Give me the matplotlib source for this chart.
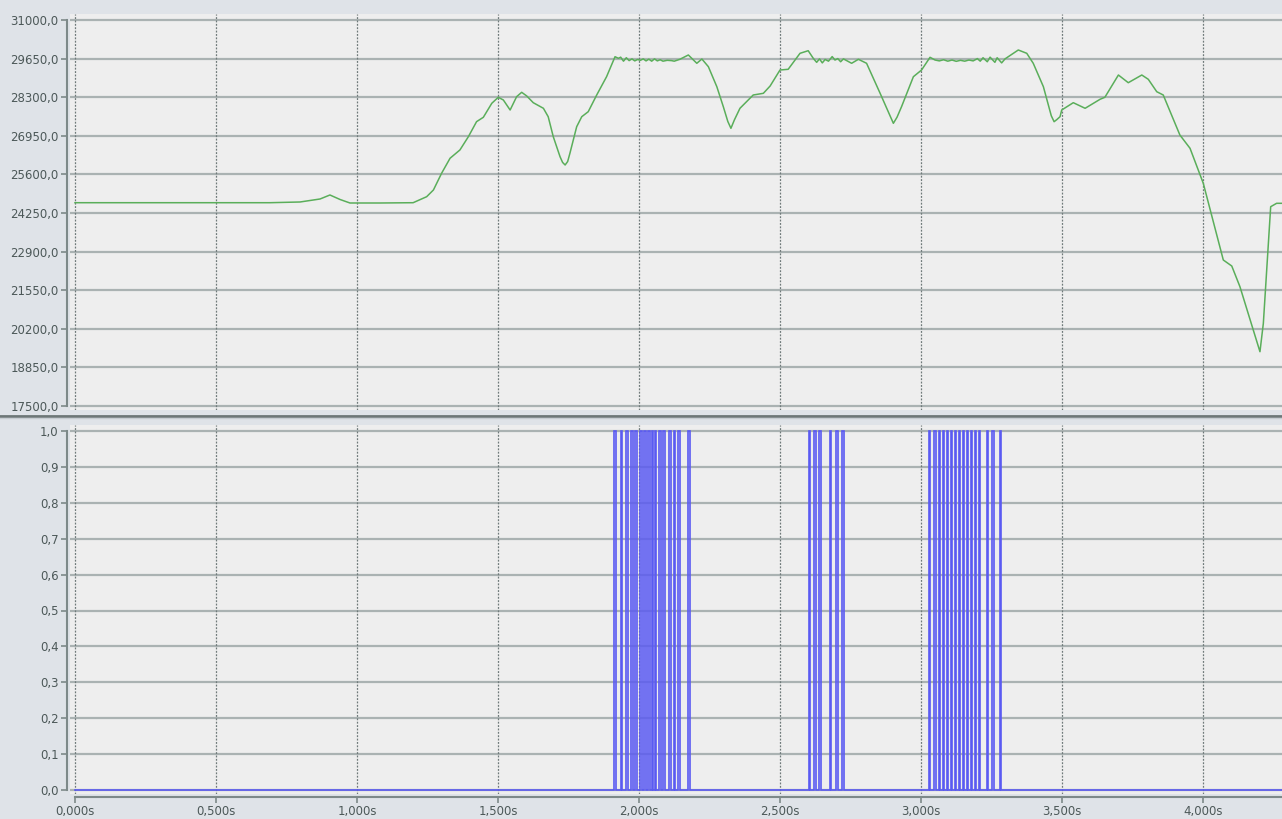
import matplotlib
matplotlib.use("Agg")
import matplotlib.pyplot as plt
from matplotlib.lines import Line2D
from matplotlib.ticker import FuncFormatter, FixedLocator

# ---- analog channel (green trace): time [s], value ----
analog_t = [
    0.000, 0.691, 0.798, 0.869, 0.904, 0.940, 0.975, 1.082, 1.199, 1.247,
    1.271, 1.300, 1.330, 1.365, 1.395, 1.424, 1.448, 1.478, 1.501, 1.519,
    1.543, 1.566, 1.584, 1.602, 1.625, 1.661, 1.678, 1.696, 1.720, 1.729,
    1.738, 1.747, 1.755, 1.779, 1.797, 1.820, 1.850, 1.885, 1.915, 1.927,
    1.935, 1.945, 1.955, 1.965, 1.975, 1.985, 1.995, 2.005, 2.015, 2.025,
    2.035, 2.045, 2.055, 2.065, 2.075, 2.085, 2.100, 2.115, 2.125, 2.145,
    2.175, 2.205, 2.223, 2.246, 2.276, 2.299, 2.315, 2.326, 2.338, 2.358,
    2.405, 2.441, 2.465, 2.500, 2.529, 2.571, 2.600, 2.618, 2.630, 2.640,
    2.650, 2.660, 2.672, 2.685, 2.695, 2.705, 2.715, 2.725, 2.754, 2.778,
    2.807, 2.855, 2.890, 2.902, 2.915, 2.931, 2.973, 3.002, 3.032, 3.050,
    3.065, 3.080, 3.095, 3.110, 3.125, 3.140, 3.155, 3.170, 3.185, 3.200,
    3.210, 3.220, 3.235, 3.245, 3.262, 3.270, 3.286, 3.298, 3.345, 3.375,
    3.398, 3.434, 3.462, 3.472, 3.482, 3.493, 3.499, 3.540, 3.582, 3.635,
    3.652, 3.700, 3.735, 3.783, 3.806, 3.836, 3.859, 3.918, 3.954, 4.001,
    4.072, 4.102, 4.131, 4.202, 4.214, 4.240, 4.261, 4.280,
]
analog_v = [
    24610, 24610, 24635, 24740, 24880, 24722, 24600, 24600, 24610, 24820,
    25055, 25640, 26165, 26455, 26920, 27445, 27597, 28087, 28297, 28202,
    27852, 28318, 28471, 28342, 28108, 27912, 27618, 26919, 26219, 26020,
    25929, 26050, 26338, 27268, 27618, 27793, 28377, 29017, 29716, 29660,
    29700, 29560, 29680, 29580, 29640, 29570, 29620, 29590, 29640, 29570,
    29630, 29560, 29640, 29570, 29610, 29560, 29590, 29580, 29560, 29626,
    29776, 29486, 29636, 29367, 28667, 27968, 27450, 27212, 27500, 27912,
    28377, 28436, 28692, 29251, 29276, 29835, 29926, 29660, 29520, 29640,
    29500, 29620, 29560, 29720, 29600, 29650, 29540, 29640, 29486, 29626,
    29486, 28437, 27650, 27387, 27600, 27968, 29017, 29251, 29695, 29600,
    29570, 29610, 29560, 29600, 29555, 29590, 29560, 29600, 29570, 29650,
    29560, 29680, 29540, 29700, 29520, 29680, 29500, 29640, 29951, 29835,
    29486, 28667, 27650, 27443, 27520, 27618, 27852, 28108, 27912, 28227,
    28297, 29076, 28807, 29076, 28926, 28492, 28377, 26978, 26513, 25289,
    22606, 22396, 21672, 19399, 20392, 24470, 24589, 24589,
]

# ---- digital channel (blue trace): rising / falling edge times [s] ----
pulse_on = [
    1.911, 1.937, 1.954, 1.970, 1.986, 2.002, 2.017, 2.032, 2.045, 2.057,
    2.072, 2.086, 2.107, 2.124, 2.140, 2.173,
    2.602, 2.620, 2.640, 2.676, 2.698, 2.720,
    3.028, 3.047, 3.063, 3.077, 3.091, 3.106, 3.120, 3.134, 3.148, 3.162,
    3.176, 3.191, 3.205, 3.233, 3.253, 3.279,
]
pulse_off = [
    1.919, 1.941, 1.961, 1.977, 1.994, 2.010, 2.025, 2.039, 2.051, 2.061,
    2.078, 2.091, 2.112, 2.129, 2.146, 2.181,
    2.607, 2.626, 2.645, 2.681, 2.704, 2.726,
    3.033, 3.052, 3.068, 3.082, 3.097, 3.111, 3.125, 3.139, 3.153, 3.168,
    3.182, 3.196, 3.210, 3.238, 3.258, 3.285,
]
t_end = 4.280

# ---- axis ticks ----
analog_ticks = [17500, 18850, 20200, 21550, 22900, 24250, 25600, 26950,
                28300, 29650, 31000]
digital_ticks = [0.0, 0.1, 0.2, 0.3, 0.4, 0.5, 0.6, 0.7, 0.8, 0.9, 1.0]
time_ticks = [0.0, 0.5, 1.0, 1.5, 2.0, 2.5, 3.0, 3.5, 4.0]

# ---- style ----
FIG_BG = "#dfe3e8"
AX_BG = "#eeeeee"
HGRID = "#aab2b2"
VGRID = "#6f7a7a"
SPINE = "#7d8989"
TXT = "#4c5858"
GREEN = "#5aae5a"
BLUE = "#5a5af2"

W, H, DPI = 1282, 819, 100
plt.rcParams["font.family"] = ["DejaVu Sans"]
fig = plt.figure(figsize=(W / DPI, H / DPI), dpi=DPI, facecolor=FIG_BG)

px_per_s = 282.0
x0_px = 75.0


def fig_rect(left_px, top_px, right_px, bottom_px):
    return [left_px / W, 1 - bottom_px / H, (right_px - left_px) / W,
            (bottom_px - top_px) / H]


xlim = (-(x0_px - 70) / px_per_s, (W - x0_px) / px_per_s)

ax1 = fig.add_axes(fig_rect(70, 14, W, 410))
ax2 = fig.add_axes(fig_rect(70, 425, W, 794))

# y ranges padded so the extreme ticks sit a few pixels inside each panel
a_pp = (31000 - 17500) / 386.0
ax1.set_ylim(17500 - 4 * a_pp, 31000 + 6 * a_pp)
d_pp = 1.0 / 359.0
ax2.set_ylim(0 - 4 * d_pp, 1.0 + 6 * d_pp)

out_pt = 3 * 72 / DPI
comma1 = FuncFormatter(lambda v, p: f"{v:.1f}".replace(".", ","))

for ax, yt in ((ax1, analog_ticks), (ax2, digital_ticks)):
    ax.set_facecolor(AX_BG)
    ax.set_xlim(*xlim)
    ax.yaxis.set_major_locator(FixedLocator(yt))
    ax.xaxis.set_major_locator(FixedLocator(time_ticks))
    ax.yaxis.set_major_formatter(comma1)
    for y in yt:
        ax.axhline(y, color=HGRID, lw=1.6, zorder=1)
    for x in time_ticks:
        ax.axvline(x, color=VGRID, lw=0.9, ls=(0, (1.5, 1.2)), zorder=1)
    for s in ("top", "right"):
        ax.spines[s].set_visible(False)
    ax.spines["left"].set_position(("outward", out_pt))
    ax.spines["left"].set_bounds(yt[0], yt[-1])
    ax.spines["left"].set_color(SPINE)
    ax.spines["left"].set_linewidth(1.5)
    ax.tick_params(axis="y", direction="out", length=4, width=1.2,
                   color=SPINE, labelcolor=TXT, labelsize=8.5, pad=2)

ax1.spines["bottom"].set_visible(False)
ax1.tick_params(axis="x", bottom=False, labelbottom=False)

ax2.spines["bottom"].set_position(("outward", out_pt))
ax2.spines["bottom"].set_bounds(0, xlim[1])
ax2.spines["bottom"].set_color(SPINE)
ax2.spines["bottom"].set_linewidth(1.5)
ax2.tick_params(axis="x", direction="out", length=4, width=1.2,
                color=SPINE, labelcolor=TXT, labelsize=8.5, pad=2)
ax2.xaxis.set_major_formatter(
    FuncFormatter(lambda v, p: f"{v:.3f}".replace(".", ",") + "s"))

# analog trace
ax1.plot(analog_t, analog_v, color=GREEN, lw=1.1, zorder=3,
         solid_joinstyle="round")

# digital trace built as a step signal from the edge times
st = [0.0]
sv = [0.0]
for on, off in zip(pulse_on, pulse_off):
    st += [on, on, off, off]
    sv += [0.0, 1.0, 1.0, 0.0]
st.append(t_end)
sv.append(0.0)
ax2.plot(st, sv, color=BLUE, lw=1.2, zorder=3, solid_joinstyle="miter")

# panel separator
fig.add_artist(Line2D([0, 1], [1 - 416 / H, 1 - 416 / H],
                      transform=fig.transFigure, color="#6d7777", lw=2.0))
fig.add_artist(Line2D([0, 1], [1 - 418 / H, 1 - 418 / H],
                      transform=fig.transFigure, color="#c7cdd2", lw=1.0))

fig.savefig("out.png", dpi=DPI, facecolor=FIG_BG)
